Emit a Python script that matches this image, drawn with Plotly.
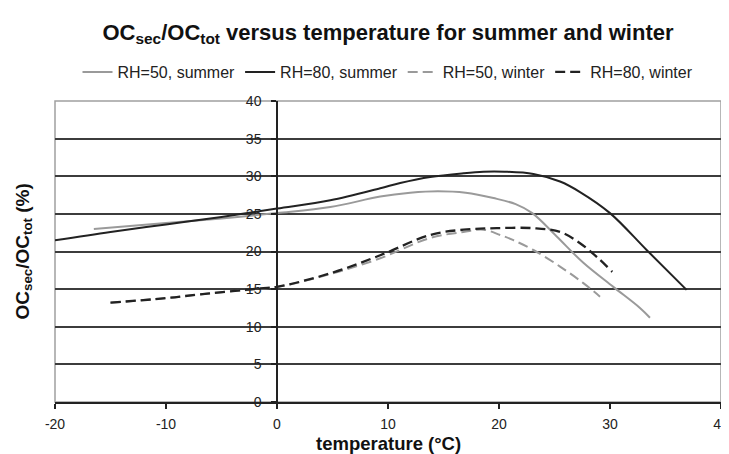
import plotly.graph_objects as go

# ---- data ----
x_rh50_summer = [-16.5, -10, -5, 0, 4.8, 9.3, 12, 14.5, 17, 19.5, 21.5, 23, 25.2, 27.6, 30.3, 32.7, 33.6]
y_rh50_summer = [23.0, 23.8, 24.4, 25.1, 25.9, 27.3, 27.8, 28.0, 27.8, 27.1, 26.3, 25.1, 22.0, 18.5, 15.3, 12.5, 11.2]

x_rh80_summer = [-20, -15, -10, -5, 0, 4.8, 9.3, 11.1, 13.8, 16.8, 18.6, 20.5, 23.1, 25.5, 27.3, 30, 33.3, 36.9]
y_rh80_summer = [21.5, 22.6, 23.6, 24.6, 25.7, 26.8, 28.4, 29.1, 29.9, 30.4, 30.6, 30.6, 30.3, 29.3, 27.9, 25.1, 20.2, 14.9]

x_rh50_winter = [-15, -10, -5, 0, 4.8, 9.3, 13.8, 16.8, 18.6, 20.1, 21.3, 23.1, 25.5, 27.6, 29.1]
y_rh50_winter = [13.2, 13.8, 14.6, 15.3, 17.0, 19.1, 21.8, 22.6, 22.9, 22.2, 21.5, 20.2, 18.0, 15.8, 14.0]

x_rh80_winter = [-15, -10, -7.6, -1.5, 0, 4.8, 9.3, 13.8, 16.8, 19.8, 23.1, 25.5, 27.3, 28.8, 30.2]
y_rh80_winter = [13.2, 13.8, 14.2, 15.1, 15.3, 17.1, 19.5, 22.2, 22.9, 23.1, 23.1, 22.6, 21.1, 19.3, 17.3]

series_names = ["RH=50, summer", "RH=80, summer", "RH=50, winter", "RH=80, winter"]
x_ticks = [-20, -10, 0, 10, 20, 30, 40]
y_ticks = [0, 5, 10, 15, 20, 25, 30, 35, 40]

GRAY = "#9a9a9a"
DARK = "#222222"
FONT = "Liberation Sans, Arial, sans-serif"

# the page adds an 8px body margin, so the figure is sized to the visible area
W, H = 721, 446
L, R, T, B = 47, 8, 93, 52
PH = H - T - B

fig = go.Figure()
fig.add_trace(go.Scatter(x=x_rh50_summer, y=y_rh50_summer, mode="lines", name=series_names[0],
                         line=dict(color=GRAY, width=2, shape="spline")))
fig.add_trace(go.Scatter(x=x_rh80_summer, y=y_rh80_summer, mode="lines", name=series_names[1],
                         line=dict(color=DARK, width=2, shape="spline")))
fig.add_trace(go.Scatter(x=x_rh50_winter, y=y_rh50_winter, mode="lines", name=series_names[2],
                         line=dict(color=GRAY, width=2, shape="spline", dash="10px,5px")))
fig.add_trace(go.Scatter(x=x_rh80_winter, y=y_rh80_winter, mode="lines", name=series_names[3],
                         line=dict(color=DARK, width=2.3, shape="spline", dash="10px,5px")))

fig.update_layout(
    width=W, height=H,
    margin=dict(l=L, r=R, t=T, b=B, autoexpand=False),
    paper_bgcolor="white", plot_bgcolor="white",
    font=dict(family=FONT, color="#222", size=14),
    title=dict(text="<b>OC<sub>sec</sub>/OC<sub>tot</sub> versus temperature for summer and winter</b>",
               x=0.5, xref="paper", xanchor="center", y=1 - 24 / H, yanchor="middle",
               font=dict(size=22, color="#111")),
    legend=dict(orientation="h", x=0.5, xanchor="center", y=1 + 29 / PH, yanchor="middle",
                font=dict(size=16, color="#222"), itemwidth=30, tracegroupgap=0,
                bgcolor="rgba(0,0,0,0)"),
    showlegend=True,
)

fig.update_xaxes(range=[-20, 40], tickvals=x_ticks, ticktext=[str(v) for v in x_ticks],
                 automargin=False,
                 showgrid=False, zeroline=False, showline=True, linecolor=DARK, linewidth=1.5,
                 ticks="outside", ticklen=5, tickcolor=DARK, tickwidth=1.5,
                 ticklabelstandoff=3, tickfont=dict(size=14, color="#222"))
fig.update_yaxes(range=[0, 40], tickvals=y_ticks, ticktext=[str(v) for v in y_ticks],
                 anchor="free", position=1/3, automargin=False,
                 showgrid=True, gridcolor="#3c3c3c", gridwidth=1.5, zeroline=False,
                 showline=True, linecolor=DARK, linewidth=1.5,
                 ticks="outside", ticklen=5, tickcolor=DARK, tickwidth=1.5,
                 ticklabelstandoff=7, tickfont=dict(size=14, color="#222"))

fig.add_shape(type="rect", xref="x domain", yref="y domain", x0=0, x1=1, y0=0, y1=1,
              line=dict(color="#a0a0a0", width=1.5), layer="below")

fig.add_annotation(text="<b>OC<sub>sec</sub>/OC<sub>tot</sub> (%)</b>", textangle=-90,
                   xref="paper", yref="paper", x=(15 - L) / (W - L - R), y=0.5,
                   xanchor="center", yanchor="middle",
                   showarrow=False, font=dict(size=19, color="#111"))
fig.add_annotation(text="<b>temperature (°C)</b>",
                   xref="paper", yref="paper", x=0.5, y=-(435 - (T + PH)) / PH,
                   xanchor="center", yanchor="middle",
                   showarrow=False, font=dict(size=18.5, color="#111"))

fig.write_html("out.html")
